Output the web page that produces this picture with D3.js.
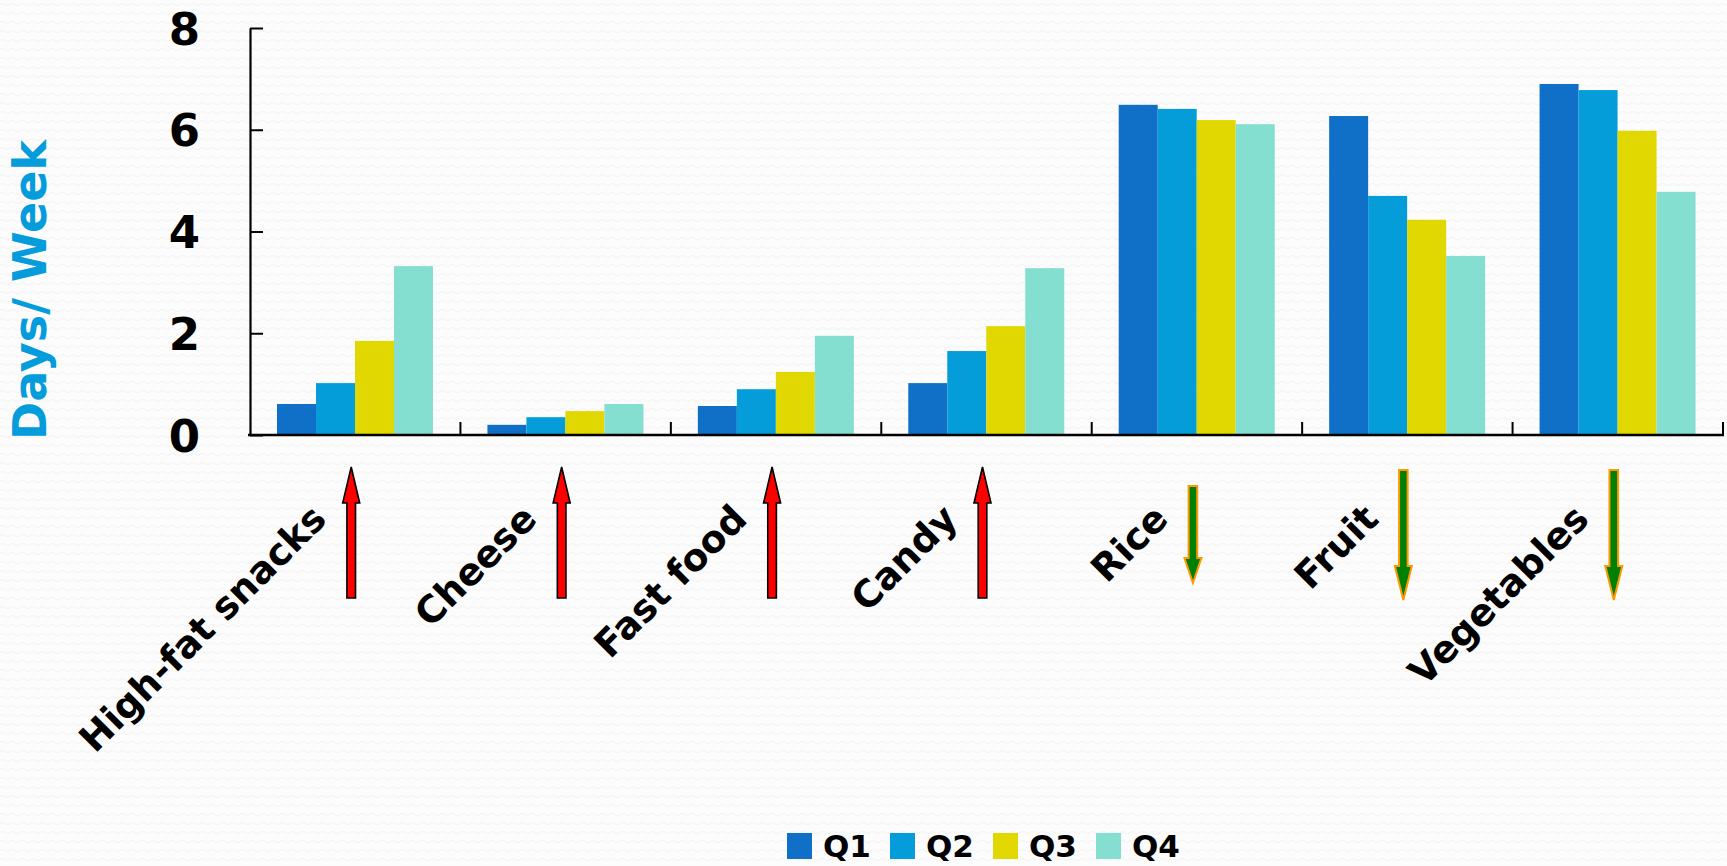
<!DOCTYPE html>
<html>
<head>
<meta charset="utf-8">
<script src="https://cdn.jsdelivr.net/npm/d3@7"></script>
<style>
  html, body { margin: 0; padding: 0; background: #fcfcfc; }
  svg { display: block; }
  text { font-family: "DejaVu Sans", sans-serif; font-weight: bold; }
</style>
</head>
<body>
<svg id="chart" width="1727" height="866"></svg>
<script>
// Food categories and quarterly intake (days per week)
const categories = ["High-fat snacks", "Cheese", "Fast food", "Candy", "Rice", "Fruit", "Vegetables"];
const quarters = ["Q1", "Q2", "Q3", "Q4"];
const q1 = [0.61, 0.20, 0.57, 1.02, 6.49, 6.27, 6.90];
const q2 = [1.02, 0.35, 0.90, 1.65, 6.41, 4.70, 6.78];
const q3 = [1.85, 0.47, 1.24, 2.14, 6.19, 4.23, 5.98];
const q4 = [3.32, 0.61, 1.95, 3.28, 6.11, 3.52, 4.78];
const yTicks = [0, 2, 4, 6, 8];
// Direction of change from Q1 to Q4 for each category
const trend = ["up", "up", "up", "up", "down", "down", "down"];

const seriesValues = [q1, q2, q3, q4];
const colors = ["#106fc6", "#049dd9", "#e0d800", "#85dfd0"];

const svg = d3.select("#chart");
const W = 1727, H = 866;

// faint wavy paper texture
const defs = svg.append("defs");
const pat = defs.append("pattern")
  .attr("id", "waves").attr("patternUnits", "userSpaceOnUse")
  .attr("width", 10).attr("height", 9);
pat.append("rect").attr("width", 10).attr("height", 9).attr("fill", "#fcfcfc");
pat.append("path")
  .attr("d", "M0,4.5 Q2.5,2.5 5,4.5 T10,4.5")
  .attr("fill", "none").attr("stroke", "#f4f4f4").attr("stroke-width", 1.1);
svg.append("rect").attr("width", W).attr("height", H).attr("fill", "url(#waves)");

const plotLeft = 250, plotRight = 1723, plotTop = 28, plotBottom = 435;

const x = d3.scaleBand().domain(categories).range([plotLeft, plotRight]).padding(0);
const xi = d3.scaleBand().domain(quarters).range([27, 183]).padding(0);
const y = d3.scaleLinear().domain([0, 8]).range([plotBottom, plotTop]);

// bars
const groups = svg.append("g").selectAll("g")
  .data(categories)
  .join("g")
  .attr("transform", d => `translate(${x(d)},0)`);

groups.selectAll("rect")
  .data((d, i) => quarters.map((q, k) => ({ q, v: seriesValues[k][i], k })))
  .join("rect")
  .attr("x", d => xi(d.q))
  .attr("width", xi.bandwidth())
  .attr("y", d => y(d.v))
  .attr("height", d => y(0) - y(d.v))
  .attr("fill", d => colors[d.k]);

// y axis: ticks point inward, labels on the left
const yAxis = svg.append("g")
  .attr("transform", `translate(${plotLeft},0)`)
  .call(d3.axisLeft(y).tickValues(yTicks).tickFormat(d3.format("d"))
    .tickSizeInner(-13).tickSizeOuter(0).tickPadding(50));
yAxis.select(".domain").attr("stroke", "#000").attr("stroke-width", 2.2);
yAxis.selectAll(".tick line").attr("stroke", "#000").attr("stroke-width", 2);
yAxis.selectAll(".tick text")
  .attr("fill", "#000").attr("font-size", 45)
  .attr("font-family", "DejaVu Sans").attr("font-weight", "bold")
  .attr("dy", "0.36em");

// x axis with ticks at the category boundaries
const xAxis = svg.append("g");
xAxis.append("line")
  .attr("x1", plotLeft - 2).attr("x2", plotRight + 1)
  .attr("y1", plotBottom).attr("y2", plotBottom)
  .attr("stroke", "#000").attr("stroke-width", 2.4);
xAxis.selectAll("line.tick")
  .data(categories)
  .join("line")
  .attr("class", "tick")
  .attr("x1", d => x(d) + x.bandwidth()).attr("x2", d => x(d) + x.bandwidth())
  .attr("y1", plotBottom).attr("y2", plotBottom - 13)
  .attr("stroke", "#000").attr("stroke-width", 2);

// rotated category labels
svg.append("g").selectAll("text")
  .data(categories)
  .join("text")
  .attr("transform", d => `translate(${x(d) + x.bandwidth() / 2 - 27},521) rotate(-45)`)
  .attr("text-anchor", "end")
  .attr("font-size", 37.5)
  .attr("fill", "#000")
  .text(d => d);

// trend arrows beside each label
const arrowUp = { top: 467, head: 503, end: 598 };
const arrowDown = { start: 470, head: 566, tip: 600 };
const arrowDownShort = { start: 486, head: 558, tip: 583 };
const shaftHalf = 4.3, headHalf = 8.5;

svg.append("g").selectAll("path")
  .data(categories.map((c, i) => ({ c, dir: trend[i], i })))
  .join("path")
  .attr("d", d => {
    const cx = x(d.c) + x.bandwidth() / 2 - 4;
    if (d.dir === "up") {
      const a = arrowUp;
      return `M${cx},${a.top} L${cx + headHalf},${a.head} L${cx + shaftHalf},${a.head} ` +
        `L${cx + shaftHalf},${a.end} L${cx - shaftHalf},${a.end} L${cx - shaftHalf},${a.head} ` +
        `L${cx - headHalf},${a.head} Z`;
    }
    const a = d.c === "Rice" ? arrowDownShort : arrowDown;
    return `M${cx},${a.tip} L${cx + headHalf},${a.head} L${cx + shaftHalf},${a.head} ` +
      `L${cx + shaftHalf},${a.start} L${cx - shaftHalf},${a.start} L${cx - shaftHalf},${a.head} ` +
      `L${cx - headHalf},${a.head} Z`;
  })
  .attr("fill", d => d.dir === "up" ? "#ff0000" : "#008000")
  .attr("stroke", d => d.dir === "up" ? "#000" : "#ff9900")
  .attr("stroke-width", d => d.dir === "up" ? 1.6 : 2)
  .attr("stroke-linejoin", "miter");

// y axis title
svg.append("text")
  .attr("transform", "translate(46,290) rotate(-90)")
  .attr("text-anchor", "middle")
  .attr("font-size", 46)
  .attr("fill", "#049cdb")
  .text("Days/ Week");

// legend
const legend = svg.append("g").selectAll("g")
  .data(quarters)
  .join("g")
  .attr("transform", (d, i) => `translate(${787 + i * 103},833)`);
legend.append("rect")
  .attr("width", 25).attr("height", 26)
  .attr("fill", (d, i) => colors[i]);
legend.append("text")
  .attr("x", 36).attr("y", 24)
  .attr("font-size", 31)
  .attr("fill", "#000")
  .text(d => d);
</script>
</body>
</html>
